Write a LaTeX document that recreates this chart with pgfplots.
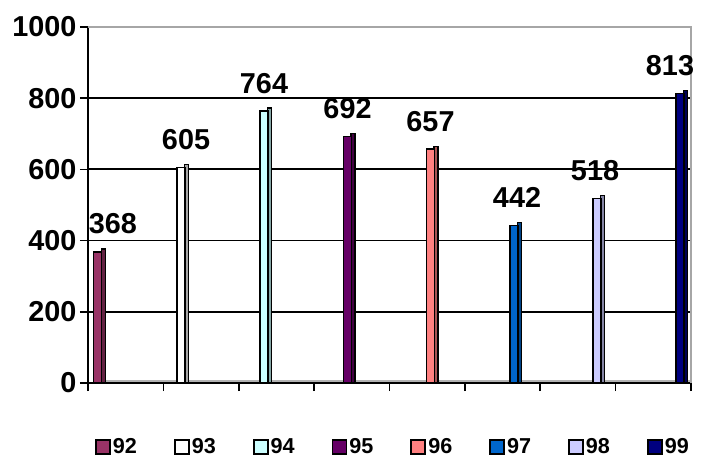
\documentclass[border=0pt]{standalone}
\usepackage{pgfplots}
\pgfplotsset{compat=1.18}
\usepackage{fontspec}
\setmainfont{Liberation Sans}
\definecolor{c92}{HTML}{993366}
\definecolor{c93}{HTML}{FFFFFF}
\definecolor{c94}{HTML}{CCFFFF}
\definecolor{c95}{HTML}{660066}
\definecolor{c96}{HTML}{FF8080}
\definecolor{c97}{HTML}{0066CC}
\definecolor{c98}{HTML}{CCCCFF}
\definecolor{c99}{HTML}{000080}
\newcommand{\bigfont}{\fontsize{28.8bp}{30bp}\selectfont\bfseries}
\newcommand{\legfont}{\fontsize{21.6bp}{22bp}\selectfont\bfseries}
\pgfplotsset{
  front/.style={ybar, bar shift=0pt, bar width=8bp, draw=black, line width=1.4bp, fill=#1,
    nodes near coords, nodes near coords style={font=\bigfont, anchor=base, yshift=18bp, black}},
  side/.style={ybar, bar shift=5.5bp, bar width=4bp, draw=black, line width=1.4bp, fill=#1!65!black, forget plot},
}
\begin{document}
\begin{tikzpicture}
\begin{axis}[
  at={(88bp,78bp)}, anchor=south west,
  scale only axis, width=603bp, height=356bp,
  xmin=0, xmax=8, ymin=0, ymax=1000,
  axis lines*=left,
  axis line style={black, line width=1.8bp},
  xtick={0,...,8}, xticklabels={},
  ytick={0,200,...,1000},
  tick align=outside, major tick length=8bp,
  tick style={black, line width=1.6bp},
  ymajorgrids, grid style={black, line width=1.8bp},
  /pgf/number format/assume math mode=true,
  /pgf/number format/1000 sep={},
  ticklabel style={font=\bigfont},
  clip=false,
  legend columns=8,
  legend image code/.code={\draw[#1, line width=1.8bp, draw=black] (0bp,-7bp) rectangle (14bp,7bp);},
  legend style={draw=none, fill=none, at={(0.0066,-0.145)}, anchor=north west,
    legend cell align=left, font=\legfont,
    nodes={inner sep=2bp},
    /tikz/every even column/.append style={column sep=35bp}},
]
\draw[gray!60, line width=2.5bp] (rel axis cs:0.01,0.006) -- (rel axis cs:1,0.006);
\draw[gray!70, line width=1.8bp] (rel axis cs:0,1) -- (rel axis cs:1,1) -- (rel axis cs:1,0);

\addplot[side=c92] coordinates {(0.13,376)};
\addplot[front=c92, nodes near coords style={xshift=15bp}] coordinates {(0.13,368)};

\addplot[side=c93] coordinates {(1.234,613)};
\addplot[front=c93, nodes near coords style={xshift=5bp}] coordinates {(1.234,605)};

\addplot[side=c94] coordinates {(2.335,772)};
\addplot[front=c94, nodes near coords style={xshift=0bp}] coordinates {(2.335,764)};

\addplot[side=c95] coordinates {(3.443,700)};
\addplot[front=c95, nodes near coords style={xshift=0bp}] coordinates {(3.443,692)};

\addplot[side=c96] coordinates {(4.544,665)};
\addplot[front=c96, nodes near coords style={xshift=0bp}] coordinates {(4.544,657)};

\addplot[side=c97] coordinates {(5.652,450)};
\addplot[front=c97, nodes near coords style={xshift=3bp}] coordinates {(5.652,442)};

\addplot[side=c98] coordinates {(6.753,526)};
\addplot[front=c98, nodes near coords style={xshift=-2bp}] coordinates {(6.753,518)};

\addplot[side=c99] coordinates {(7.854,821)};
\addplot[front=c99, nodes near coords style={xshift=-10bp}] coordinates {(7.854,813)};

\legend{92,93,94,95,96,97,98,99}
\end{axis}
\pgfresetboundingbox
\path[use as bounding box] (0,0) rectangle (710bp,461bp);
\end{tikzpicture}
\end{document}
